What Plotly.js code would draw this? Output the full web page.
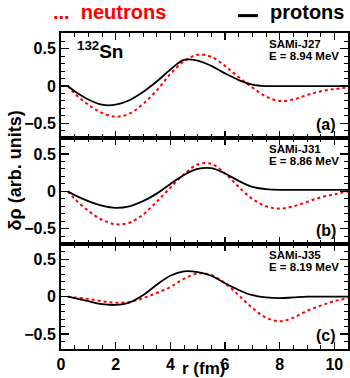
<!DOCTYPE html>
<html><head><meta charset="utf-8">
<script src="https://cdn.plot.ly/plotly-3.0.1.min.js"></script>
<style>html,body{margin:0;padding:0;background:#fff}#c{width:350px;height:378px}</style>
</head><body><div id="c"></div>
<script>
const r = [0.25, 0.5, 1, 1.5, 2, 2.5, 3, 3.5, 4, 4.5, 5, 5.5, 6, 6.5, 7, 7.5, 8, 8.5, 9, 9.5, 10, 10.5];
// panel (a) SAMi-J27
const protonsA  = [0, -0.07, -0.18, -0.25, -0.25, -0.19, -0.08, 0.06, 0.22, 0.35, 0.34, 0.27, 0.17, 0.08, 0.02, 0.0, 0, 0, 0, 0, 0, 0];
const neutronsA = [0, -0.10, -0.25, -0.36, -0.41, -0.37, -0.24, -0.06, 0.16, 0.33, 0.42, 0.39, 0.27, 0.12, -0.02, -0.14, -0.20, -0.18, -0.12, -0.07, -0.04, -0.02];
// panel (b) SAMi-J31
const protonsB  = [0, -0.05, -0.13, -0.19, -0.22, -0.20, -0.13, -0.03, 0.10, 0.22, 0.30, 0.31, 0.24, 0.14, 0.06, 0.03, 0.02, 0.02, 0.02, 0.02, 0.02, 0.02];
const neutronsB = [0, -0.10, -0.26, -0.38, -0.44, -0.42, -0.31, -0.14, 0.05, 0.23, 0.36, 0.37, 0.24, 0.06, -0.10, -0.20, -0.23, -0.20, -0.14, -0.08, -0.04, 0.0];
// panel (c) SAMi-J35
const protonsC  = [0, -0.02, -0.06, -0.10, -0.11, -0.08, 0.02, 0.16, 0.28, 0.34, 0.33, 0.28, 0.18, 0.09, 0.02, -0.01, -0.02, -0.01, 0, 0, 0, 0];
const neutronsC = [0, -0.01, -0.03, -0.06, -0.08, -0.07, -0.02, 0.05, 0.13, 0.24, 0.31, 0.29, 0.18, 0.02, -0.15, -0.28, -0.33, -0.28, -0.19, -0.12, -0.06, -0.02];

const models = ["SAMi-J27", "SAMi-J31", "SAMi-J35"];
const energies = ["8.94", "8.86", "8.19"];
const labels = ["(a)", "(b)", "(c)"];
const xTicks = [0, 2, 4, 6, 8, 10];
const yTicks = [-0.5, 0, 0.5];
const yTickText = ["\u22120.5", "0", "0.5"];

const P = [protonsA, protonsB, protonsC];
const N = [neutronsA, neutronsB, neutronsC];

const F = "Liberation Sans, Arial, sans-serif";
const traces = [];
for (let i = 0; i < 3; i++) {
  const sx = i === 0 ? "" : String(i + 1);
  traces.push({x: r, y: N[i], mode: "lines", line: {color: "#ff0000", width: 2, dash: "dot", shape: "spline"}, xaxis: "x" + sx, yaxis: "y" + sx, showlegend: false, hoverinfo: "skip"});
  traces.push({x: r, y: P[i], mode: "lines", line: {color: "#000000", width: 1.8, shape: "spline"}, xaxis: "x" + sx, yaxis: "y" + sx, showlegend: false, hoverinfo: "skip"});
}

const layout = {
  width: 350, height: 378,
  margin: {l: 61, r: 2, t: 33, b: 29},
  paper_bgcolor: "#fff", plot_bgcolor: "#fff",
  showlegend: false,
  annotations: [], shapes: []
};
const domains = [[2/3, 1], [1/3, 2/3], [0, 1/3]];
for (let i = 0; i < 3; i++) {
  const sx = i === 0 ? "" : String(i + 1);
  layout["xaxis" + sx] = {
    range: [0, 10.5], anchor: "y" + sx, domain: [0, 1],
    tickvals: xTicks, ticktext: xTicks.map(String), showticklabels: i === 2,
    ticks: "inside", ticklen: 7, tickwidth: 1.2, tickcolor: "#000",
    minor: {dtick: 0.5, ticks: "inside", ticklen: 4, tickwidth: 1, tickcolor: "#000", showgrid: false},
    showline: true, linecolor: "#000", linewidth: 2, mirror: "ticks",
    showgrid: false, zeroline: false,
    tickfont: {family: F, size: 16, color: "#000", weight: "bold"}
  };
  layout["yaxis" + sx] = {
    range: [-0.7, 0.71], anchor: "x" + sx, domain: domains[i],
    tickvals: yTicks, ticktext: yTickText,
    ticks: "inside", ticklen: 8, tickwidth: 1.2, tickcolor: "#000",
    minor: {dtick: 0.1, ticks: "inside", ticklen: 4, tickwidth: 1, tickcolor: "#000", showgrid: false},
    showline: true, linecolor: "#000", linewidth: 2, mirror: "ticks",
    showgrid: false, zeroline: false,
    tickfont: {family: F, size: 16, color: "#000", weight: "bold"}
  };
  layout.annotations.push({
    xref: "x" + sx + " domain", yref: "y" + sx + " domain", x: 0.718, y: 1, yshift: -3,
    xanchor: "left", yanchor: "top", showarrow: false,
    text: models[i],
    font: {family: F, size: 11.5, color: "#000", weight: "bold"}
  });
  layout.annotations.push({
    xref: "x" + sx + " domain", yref: "y" + sx + " domain", x: 0.718, y: 1, yshift: -15,
    xanchor: "left", yanchor: "top", showarrow: false,
    text: "E = " + energies[i] + " MeV",
    font: {family: F, size: 11.5, color: "#000", weight: "bold"}
  });
  layout.annotations.push({
    xref: "x" + sx + " domain", yref: "y" + sx + " domain", x: 0.965, y: 0.03,
    xanchor: "right", yanchor: "bottom", showarrow: false,
    text: labels[i],
    font: {family: F, size: 16, color: "#000", weight: "bold"}
  });
}
layout.annotations.push({
  xref: "x domain", yref: "y domain", x: 0.05, y: 0.97, xanchor: "left", yanchor: "top", showarrow: false,
  text: "<sup>132</sup>Sn", font: {family: F, size: 19, color: "#000", weight: "bold"}
});
layout.annotations.push({
  xref: "paper", yref: "paper", x: -0.157, y: 0.565, xanchor: "center", yanchor: "middle", showarrow: false,
  textangle: -90, text: "\u03b4\u03c1 (arb. units)",
  font: {family: F, size: 18, color: "#000", weight: "bold"}
});
layout.annotations.push({
  xref: "paper", yref: "paper", x: 0.578, y: 0, yshift: -8, xanchor: "right", yanchor: "top", showarrow: false,
  text: "r (fm)", font: {family: F, size: 17, color: "#000", weight: "bold"}
});
layout.annotations.push({
  xref: "paper", yref: "paper", x: -0.035, y: 1, yshift: 34, xanchor: "left", yanchor: "top", showarrow: false,
  text: "...  neutrons", font: {family: F, size: 20, color: "#ff0000", weight: "bold"}
});
layout.annotations.push({
  xref: "paper", yref: "paper", x: 0.72, y: 1, yshift: 34, xanchor: "left", yanchor: "top", showarrow: false,
  text: "protons", font: {family: F, size: 20, color: "#000", weight: "bold"}
});
layout.shapes.push({type: "line", xref: "paper", yref: "paper", x0: 0.617, x1: 0.686, y0: 1.055, y1: 1.055, line: {color: "#000", width: 3}});

Plotly.newPlot("c", traces, layout, {staticPlot: true, displayModeBar: false});
</script></body></html>
